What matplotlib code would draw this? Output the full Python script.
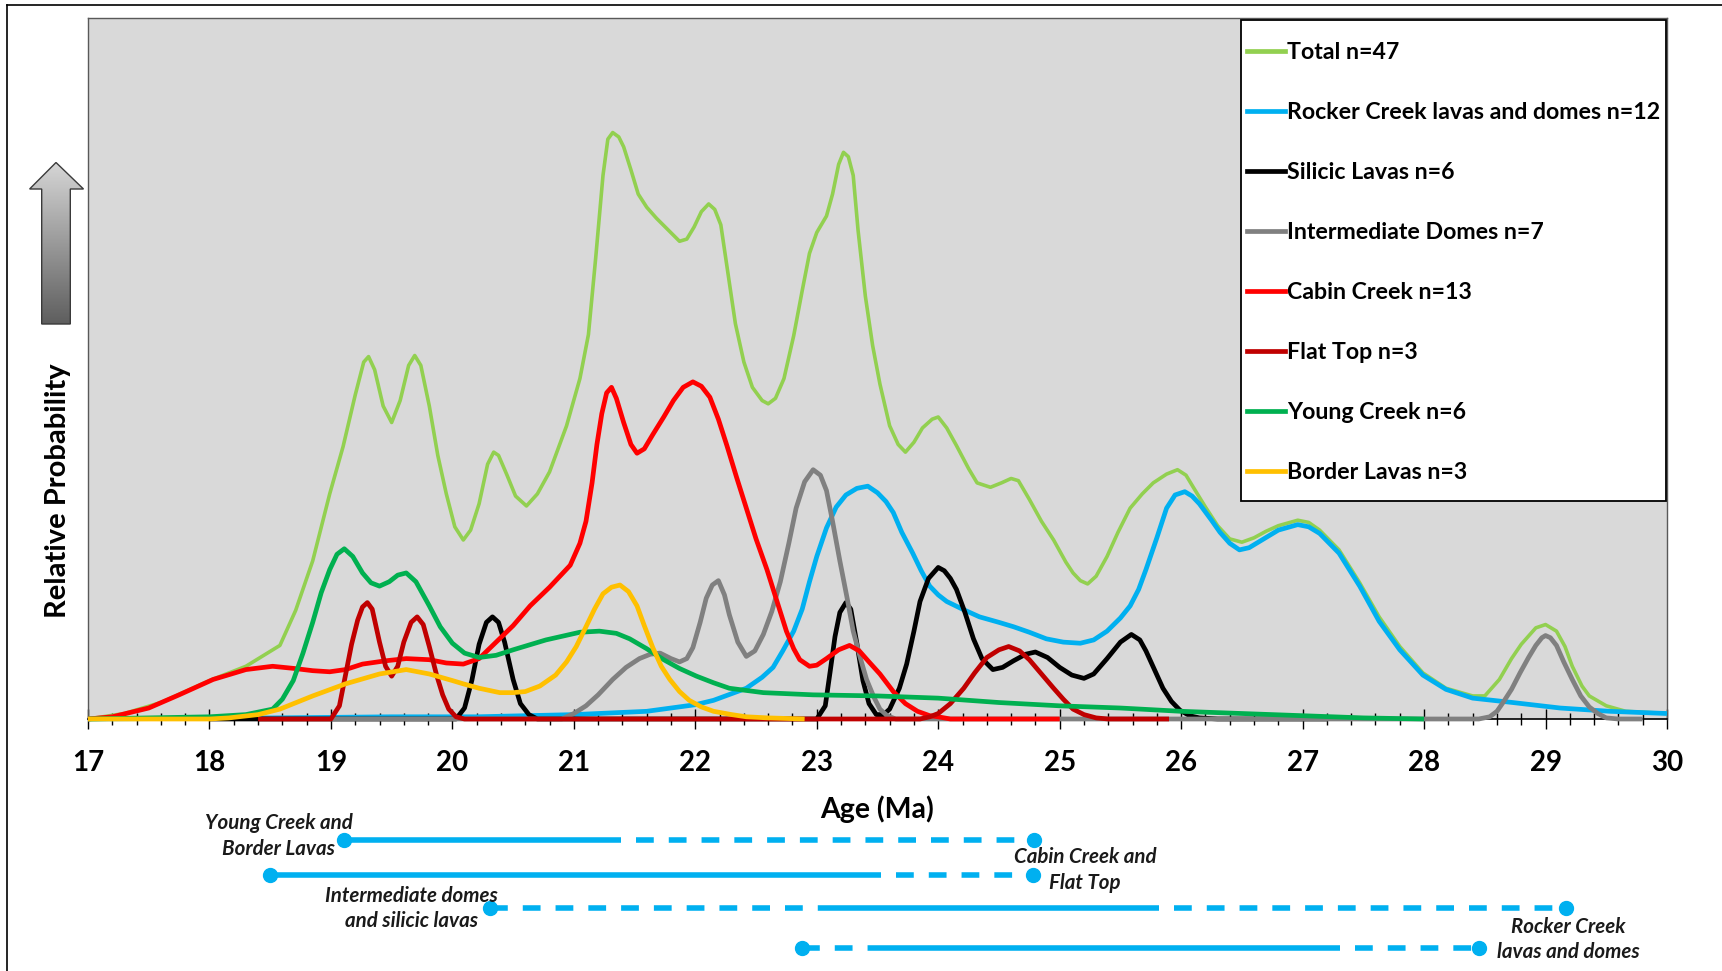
import numpy as np
import matplotlib
matplotlib.use("Agg")
import matplotlib.pyplot as plt
from matplotlib.lines import Line2D
from matplotlib.patches import Polygon, Rectangle
from matplotlib.ticker import MultipleLocator
from matplotlib.colors import LinearSegmentedColormap

plt.rcParams["font.family"] = ["Lato", "DejaVu Sans"]
plt.rcParams["font.weight"] = "bold"

# ---------------------------------------------------------------
# Probability density curves: age (Ma) and relative probability
# ---------------------------------------------------------------
total_age = [17.0, 17.3, 17.6, 18.0, 18.3, 18.58, 18.71, 18.85, 18.99, 19.1, 19.2, 19.27, 19.31,
             19.36, 19.43, 19.5, 19.57, 19.64, 19.69, 19.74, 19.81, 19.88, 19.95, 20.02, 20.09,
             20.15, 20.22, 20.29, 20.34, 20.38, 20.45, 20.52, 20.61, 20.7, 20.8, 20.94, 21.05,
             21.12, 21.18, 21.24, 21.28, 21.32, 21.37, 21.41, 21.47, 21.53, 21.6, 21.68, 21.78,
             21.87, 21.93, 21.99, 22.05, 22.11, 22.16, 22.21, 22.27, 22.33, 22.4, 22.47, 22.55,
             22.6, 22.66, 22.73, 22.81, 22.88, 22.94, 23.0, 23.08, 23.13, 23.18, 23.22, 23.26,
             23.3, 23.34, 23.4, 23.46, 23.52, 23.6, 23.67, 23.73, 23.8, 23.87, 23.95, 24.0,
             24.07, 24.15, 24.25, 24.32, 24.43, 24.52, 24.6, 24.66, 24.75, 24.85, 24.95, 25.05,
             25.11, 25.17, 25.23, 25.3, 25.39, 25.48, 25.58, 25.68, 25.77, 25.88, 25.97, 26.04,
             26.1, 26.2, 26.3, 26.4, 26.5, 26.6, 26.7, 26.8, 26.96, 27.05, 27.14, 27.3, 27.47,
             27.63, 27.8, 27.99, 28.18, 28.4, 28.5, 28.62, 28.72, 28.8, 28.92, 29.0, 29.09,
             29.16, 29.22, 29.3, 29.36, 29.5, 29.66, 30.0]
total_p = [0, 5, 15, 35, 48, 67, 99, 144, 205, 248, 295, 325, 330,
           318, 285, 270, 290, 322, 331, 322, 285, 240, 205, 175, 163,
           172, 196, 232, 243, 240, 222, 203, 194, 205, 225, 267, 310,
           350, 420, 495, 528, 534, 530, 521, 500, 478, 466, 456, 445,
           435, 437, 448, 462, 469, 464, 450, 405, 360, 325, 302, 290,
           287, 292, 310, 349, 390, 424, 443, 458, 478, 505, 516, 512,
           495, 445, 385, 340, 305, 267, 250, 243, 252, 265, 273, 275,
           265, 249, 228, 215, 211, 215, 219, 217, 200, 180, 163, 143,
           133, 126, 123, 130, 148, 170, 192, 205, 215, 223, 227, 222,
           211, 193, 176, 164, 161, 165, 171, 176, 181, 179, 172, 154, 124,
           93, 66, 42, 28, 21, 21, 36, 55, 68, 83, 86, 80,
           66, 48, 30, 21, 12, 7, 5]

rocker_age = [17.0, 18.5, 19.5, 20.2, 21.0, 21.6, 22.0, 22.15, 22.42, 22.55, 22.64, 22.72, 22.81,
              22.88, 22.94, 23.0, 23.08, 23.16, 23.24, 23.33, 23.42, 23.5, 23.57, 23.63, 23.7,
              23.79, 23.86, 23.93, 24.0, 24.07, 24.2, 24.34, 24.5, 24.62, 24.75, 24.89, 25.03,
              25.17, 25.28, 25.39, 25.5, 25.58, 25.65, 25.71, 25.8, 25.88, 25.95, 26.03, 26.09,
              26.15, 26.25, 26.32, 26.4, 26.48, 26.56, 26.68, 26.8, 26.96, 27.05, 27.14, 27.3,
              27.47, 27.63, 27.8, 27.99, 28.18, 28.4, 28.73, 29.12, 29.53, 30.0]
rocker_p = [0, 1, 2, 2, 4, 7, 13, 17, 28, 38, 47, 62, 80,
            100, 125, 148, 174, 193, 204, 210, 212, 206, 198, 188, 170,
            151, 135, 121, 113, 107, 100, 93, 88, 84, 79, 73, 70,
            69, 72, 80, 92, 103, 118, 136, 165, 192, 204, 207, 203,
            196, 181, 170, 160, 154, 156, 164, 172, 177, 175, 169, 151,
            121, 89, 63, 40, 27, 19, 15, 10, 7, 5]

silicic_age = [18.0, 20.03, 20.1, 20.16, 20.22, 20.28, 20.33, 20.38, 20.43, 20.5, 20.56, 20.63,
               20.7, 23.0, 23.07, 23.11, 23.15, 23.19, 23.24, 23.28, 23.33, 23.38, 23.43, 23.49,
               23.55, 23.6, 23.68, 23.74, 23.8, 23.85, 23.92, 24.0, 24.05, 24.1, 24.15, 24.22,
               24.29, 24.36, 24.45, 24.53, 24.62, 24.72, 24.8, 24.9, 25.0, 25.1, 25.2, 25.28,
               25.39, 25.5, 25.59, 25.66, 25.71, 25.78, 25.85, 25.92, 25.99, 26.07, 26.15, 26.3,
               27.2]
silicic_p = [0, 0, 10, 35, 68, 88, 93, 88, 70, 36, 14, 4,
             0, 0, 12, 43, 75, 97, 106, 100, 69, 35, 14, 4,
             4, 9, 28, 50, 80, 107, 128, 138, 135, 128, 118, 97,
             73, 55, 45, 47, 53, 59, 61, 56, 47, 40, 37, 41,
             55, 70, 77, 72, 62, 45, 28, 16, 8, 3, 1, 0,
             0]

domes_age = [19.0, 20.9, 21.0, 21.1, 21.2, 21.32, 21.43, 21.54, 21.63, 21.71, 21.8, 21.87, 21.93,
             21.98, 22.04, 22.09, 22.14, 22.19, 22.24, 22.28, 22.35, 22.42, 22.49, 22.56, 22.63,
             22.7, 22.77, 22.83, 22.9, 22.97, 23.03, 23.08, 23.13, 23.19, 23.25, 23.3, 23.36,
             23.41, 23.47, 23.52, 23.58, 23.65, 28.45, 28.54, 28.6, 28.65, 28.72, 28.79, 28.86,
             28.92, 28.97, 29.0, 29.04, 29.09, 29.15, 29.22, 29.29, 29.36, 29.43, 29.5, 29.6,
             29.8]
domes_p = [0, 0, 5, 12, 22, 36, 47, 55, 59, 60, 55, 52, 55,
           65, 88, 110, 122, 126, 113, 95, 70, 57, 62, 77, 98,
           125, 160, 192, 216, 227, 222, 208, 180, 144, 110, 80, 55,
           36, 20, 9, 3, 0, 0, 2, 7, 15, 27, 42, 56,
           67, 74, 76, 74, 67, 52, 36, 21, 11, 5, 1, 0,
           0]

cabin_age = [17.0, 17.2, 17.5, 17.75, 18.03, 18.3, 18.52, 18.7, 18.85, 18.99, 19.12, 19.26, 19.45,
             19.62, 19.81, 19.95, 20.09, 20.22, 20.36, 20.5, 20.64, 20.8, 20.97, 21.05, 21.1,
             21.15, 21.19, 21.23, 21.27, 21.31, 21.35, 21.41, 21.47, 21.52, 21.58, 21.65, 21.74,
             21.82, 21.9, 21.98, 22.05, 22.12, 22.19, 22.26, 22.34, 22.42, 22.5, 22.59, 22.67,
             22.75, 22.81, 22.86, 22.94, 23.0, 23.08, 23.18, 23.27, 23.35, 23.43, 23.52, 23.63,
             23.73, 23.83, 23.93, 24.0, 24.1, 25.0]
cabin_p = [0, 2, 10, 22, 36, 45, 48, 46, 44, 43, 45, 50, 53,
           55, 54, 51, 50, 55, 70, 85, 103, 120, 140, 160, 180,
           215, 250, 278, 297, 302, 292, 270, 250, 242, 246, 259, 275,
           290, 302, 307, 303, 293, 273, 249, 220, 192, 164, 136, 108,
           80, 64, 54, 48, 49, 55, 63, 67, 62, 52, 41, 25,
           14, 7, 3, 2, 0, 0]

flattop_age = [18.4, 19.0, 19.07, 19.12, 19.17, 19.22, 19.26, 19.3, 19.34, 19.4, 19.45, 19.5, 19.55,
               19.6, 19.66, 19.71, 19.76, 19.81, 19.87, 19.92, 19.97, 20.03, 20.1, 23.85, 23.93,
               24.0, 24.1, 24.21, 24.3, 24.4, 24.5, 24.58, 24.67, 24.75, 24.85, 24.95, 25.03,
               25.11, 25.2, 25.3, 25.4, 25.9]
flattop_p = [0, 0, 12, 40, 68, 90, 102, 106, 100, 70, 48, 39, 48,
             70, 88, 93, 86, 66, 40, 22, 9, 2, 0, 0, 2,
             5, 14, 28, 42, 56, 63, 66, 62, 54, 41, 28, 18,
             9, 4, 1, 0, 0]

young_age = [17.0, 17.5, 18.0, 18.3, 18.52, 18.6, 18.69, 18.77, 18.85, 18.92, 18.99, 19.05, 19.11,
             19.18, 19.26, 19.33, 19.4, 19.48, 19.55, 19.62, 19.7, 19.81, 19.9, 20.0, 20.1,
             20.22, 20.36, 20.5, 20.77, 21.05, 21.21, 21.35, 21.46, 21.6, 21.74, 21.87, 22.01,
             22.15, 22.28, 22.56, 22.97, 23.5, 24.0, 24.5, 25.0, 25.5, 26.0, 26.5, 27.0,
             27.5, 28.0]
young_p = [0, 1, 2, 4, 9, 18, 35, 60, 88, 115, 136, 150, 155,
           148, 133, 124, 121, 125, 131, 133, 125, 103, 84, 69, 60,
           56, 58, 63, 72, 79, 80, 78, 73, 64, 54, 46, 39,
           33, 28, 24, 22, 21, 19, 15, 12, 10, 7, 5, 3,
           1, 0]

border_age = [17.0, 18.0, 18.16, 18.4, 18.58, 18.85, 19.12, 19.4, 19.62, 19.81, 20.0, 20.09, 20.22,
              20.39, 20.5, 20.6, 20.72, 20.85, 20.94, 21.02, 21.1, 21.17, 21.24, 21.31, 21.38,
              21.45, 21.52, 21.58, 21.65, 21.72, 21.79, 21.87, 21.95, 22.05, 22.15, 22.3, 22.42,
              22.6, 22.9]
border_p = [0, 0, 1, 4, 9, 21, 32, 41, 45, 41, 35, 32, 28,
            24, 24, 25, 30, 40, 52, 66, 84, 100, 114, 120, 122,
            116, 103, 85, 65, 48, 36, 25, 17, 11, 7, 4, 2,
            1, 0]

series_labels = ["Total n=47", "Rocker Creek lavas and domes n=12", "Silicic Lavas n=6",
                 "Intermediate Domes n=7", "Cabin Creek n=13", "Flat Top n=3",
                 "Young Creek n=6", "Border Lavas n=3"]
series_ages = [total_age, rocker_age, silicic_age, domes_age, cabin_age, flattop_age,
               young_age, border_age]
series_probs = [total_p, rocker_p, silicic_p, domes_p, cabin_p, flattop_p, young_p, border_p]
series_colors = ["#92D050", "#00B0F0", "#000000", "#808080", "#FF0000", "#C00000",
                 "#00B050", "#FFC000"]

# Age ranges of the units (solid = main span, dashed = possible extent)
range_segments = [
    [(19.11, 21.39, "solid"), (21.39, 24.79, "dashed")],
    [(18.50, 23.53, "solid"), (23.53, 24.78, "dashed")],
    [(20.31, 23.03, "dashed"), (23.03, 25.82, "solid"), (25.82, 29.17, "dashed")],
    [(22.88, 23.49, "dashed"), (23.49, 27.31, "solid"), (27.31, 28.45, "dashed")],
]
range_labels = [("Young Creek and", "Border Lavas"), ("Cabin Creek and", "Flat Top"),
                ("Intermediate domes", "and silicic lavas"), ("Rocker Creek", "lavas and domes")]
range_label_ages = [18.57, 25.21, 19.66, 29.19]

# ---------------------------------------------------------------
W, H, DPI = 1722, 971, 100
fig = plt.figure(figsize=(W / DPI, H / DPI), dpi=DPI)
fig.patch.set_facecolor("white")

# pixel layout of the plotting area
PL, PR, PB, PT = 88, 1667, 719, 18

# overlay in pixel coordinates for the outer frame and the arrow
fax = fig.add_axes([0, 0, 1, 1])
fax.axis("off")

ax = fig.add_axes([PL / W, 1 - PB / H, (PR - PL) / W, (PB - PT) / H])
ax.set_facecolor("#D9D9D9")
ax.set_xlim(17, 30)
ax.set_ylim(0, (PB - PT) / 1.0982)

for i, (a, p, c) in enumerate(zip(series_ages, series_probs, series_colors)):
    lw = 2.6 if i == 0 else 3.4
    ax.plot(a, p, color=c, lw=lw, zorder=3 + i, clip_on=False,
            solid_joinstyle="round", solid_capstyle="butt")

ax.xaxis.set_major_locator(MultipleLocator(1))
ax.xaxis.set_minor_locator(MultipleLocator(0.2))
ax.tick_params(axis="x", which="major", direction="inout", length=14, width=1.0,
               colors="black", labelsize=20, pad=15)
ax.tick_params(axis="x", which="minor", direction="inout", length=9, width=1.0, colors="black")
ax.tick_params(axis="y", left=False, labelleft=False)
for lab in ax.get_xticklabels():
    lab.set_fontweight("bold")

for side in ("left", "top", "right"):
    ax.spines[side].set_color("#595959")
    ax.spines[side].set_linewidth(1.0)
ax.spines["bottom"].set_color("black")
ax.spines["bottom"].set_linewidth(1.2)

ax.set_xlabel("Age (Ma)", fontsize=20.5, fontweight="bold")
ax.xaxis.set_label_coords(0.5, -(809 - PB) / (PB - PT))
ax.xaxis.label.set_verticalalignment("center")
ax.set_ylabel("Relative Probability", fontsize=21, fontweight="bold")
ax.yaxis.set_label_coords(-(PL - 58) / (PR - PL), (PB - 491) / (PB - PT))
ax.yaxis.label.set_verticalalignment("center")

# legend with a white box
box = Rectangle((1241 / W, 1 - 501 / H), (1666 - 1241) / W, (501 - 20) / H,
                transform=fig.transFigure, facecolor="white", edgecolor="black",
                lw=1.3, zorder=15, clip_on=False)
ax.add_patch(box)
handles = [Line2D([], [], color=c, lw=3.4) for c in series_colors]
leg = ax.legend(handles, series_labels, loc="center left",
                bbox_to_anchor=(1241 / W, 1 - 262.7 / H), bbox_transform=fig.transFigure,
                frameon=False, prop={"family": "Lato", "weight": "bold", "size": 16.7},
                borderpad=0.25, borderaxespad=0, labelspacing=1.68,
                handlelength=1.66, handletextpad=0.08)
leg.set_zorder(20)

# age-range bars below the axis (y in pixels from the top of the figure)
bax = fig.add_axes([PL / W, 0, (PR - PL) / W, (H - PB) / H])
bax.axis("off")
bax.set_xlim(17, 30)
bax.set_ylim(H, PB)
row_y = [840, 875, 908, 948]
bar_color = "#00B0F0"
dash_on, dash_off = 3.2, 2.7
for y, segs in zip(row_y, range_segments):
    for k, (x0, x1, style) in enumerate(segs):
        ln, = bax.plot([x0, x1], [y, y], color=bar_color, lw=4.0, clip_on=False,
                       solid_capstyle="butt")
        if style == "dashed":
            # a dashed part that follows a solid one starts with a gap
            offset = dash_on if k > 0 else 0.0
            ln.set_linestyle((offset, (dash_on, dash_off)))
    ends = [segs[0][0], segs[-1][1]]
    bax.plot(ends, [y, y], ls="none", marker="o", ms=10, color=bar_color, clip_on=False)

label_y = [(823, 849), (857, 883), (896, 921), (927, 952)]
for (t1, t2), xa, (y1, y2) in zip(range_labels, range_label_ages, label_y):
    for t, yy in ((t1, y1), (t2, y2)):
        bax.text(xa, yy, t, ha="center", va="center", fontsize=14.8, fontweight="bold",
                 fontstyle="italic", color="#1a1a1a", clip_on=False)

# outer frame lines and the gradient arrow
fax.set_xlim(0, W)
fax.set_ylim(H, 0)
fax.plot([7, 7], [H, 5], color="black", lw=1.2)
fax.plot([7, W], [5, 5], color="black", lw=1.2)
arrow_pts = [(56, 162.5), (83.5, 189), (70.3, 189), (70.3, 324), (41.7, 324),
             (41.7, 189), (29.6, 189)]
poly = Polygon(arrow_pts, closed=True, facecolor="none", edgecolor="#3A3A3A", lw=1.0, zorder=3)
fax.add_patch(poly)
grad = np.linspace(0, 1, 256).reshape(-1, 1)
cmap = LinearSegmentedColormap.from_list("arrowgrad", ["#D6D6D6", "#5E5E5E"])
im = fax.imshow(grad, cmap=cmap, extent=(29.6, 83.5, 324, 162.5), aspect="auto",
                zorder=2, interpolation="bilinear")
im.set_clip_path(poly)
fax.set_xlim(0, W)
fax.set_ylim(H, 0)

fig.savefig("out.png", dpi=DPI)
